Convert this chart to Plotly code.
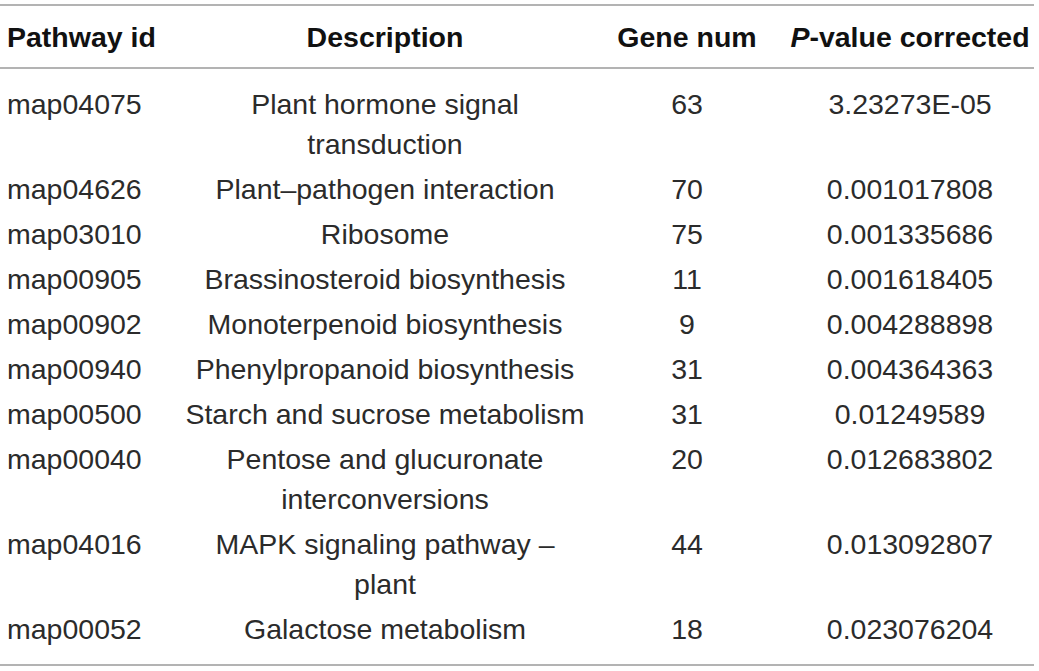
import plotly.graph_objects as go

# table contents
headers = ["Pathway id", "Description", "Gene num", "<i>P</i>-value corrected"]
pathway_ids = ["map04075", "map04626", "map03010", "map00905", "map00902",
               "map00940", "map00500", "map00040", "map04016", "map00052"]
descriptions = ["Plant hormone signal\ntransduction",
                "Plant\u2013pathogen interaction",
                "Ribosome",
                "Brassinosteroid biosynthesis",
                "Monoterpenoid biosynthesis",
                "Phenylpropanoid biosynthesis",
                "Starch and sucrose metabolism",
                "Pentose and glucuronate\ninterconversions",
                "MAPK signaling pathway \u2013\nplant",
                "Galactose metabolism"]
gene_num = [63, 70, 75, 11, 9, 31, 31, 20, 44, 18]
p_corrected = ["3.23273E-05", "0.001017808", "0.001335686", "0.001618405",
               "0.004288898", "0.004364363", "0.01249589", "0.012683802",
               "0.013092807", "0.023076204"]

W, H = 1039, 671
FONT = "Liberation Sans, Arial, Helvetica, sans-serif"
FS = 28.5
TXT = "#2b2b2b"
RULE = "#9a9a9a"

col_x = [7, 385, 687, 910]
header_y = 40
first_y = 107
row_pitch = 45
line_gap = 40

# work out the vertical position of every text line
row_y = []
line_y, line_txt = [], []
y = first_y
for d in descriptions:
    parts = d.split("\n")
    row_y.append(y)
    for k, p in enumerate(parts):
        line_y.append(y + k * line_gap)
        line_txt.append(p)
    y += row_pitch + (len(parts) - 1) * line_gap

fig = go.Figure()

# header
fig.add_trace(go.Scatter(
    x=[col_x[0]], y=[header_y], text=["<b>" + headers[0] + "</b>"],
    mode="text", textposition="middle right",
    textfont=dict(family=FONT, size=FS, color="#111"), hoverinfo="skip"))
fig.add_trace(go.Scatter(
    x=col_x[1:], y=[header_y] * 3, text=["<b>" + h + "</b>" for h in headers[1:]],
    mode="text", textposition="middle center",
    textfont=dict(family=FONT, size=FS, color="#111"), hoverinfo="skip"))

# body
fig.add_trace(go.Scatter(
    x=[col_x[0]] * len(pathway_ids), y=row_y, text=pathway_ids,
    mode="text", textposition="middle right",
    textfont=dict(family=FONT, size=FS, color=TXT), hoverinfo="skip"))
fig.add_trace(go.Scatter(
    x=[col_x[1]] * len(line_txt), y=line_y, text=line_txt,
    mode="text", textposition="middle center",
    textfont=dict(family=FONT, size=FS, color=TXT), hoverinfo="skip"))
fig.add_trace(go.Scatter(
    x=[col_x[2]] * len(gene_num), y=row_y, text=[str(g) for g in gene_num],
    mode="text", textposition="middle center",
    textfont=dict(family=FONT, size=FS, color=TXT), hoverinfo="skip"))
fig.add_trace(go.Scatter(
    x=[col_x[3]] * len(p_corrected), y=row_y, text=p_corrected,
    mode="text", textposition="middle center",
    textfont=dict(family=FONT, size=FS, color=TXT), hoverinfo="skip"))

# horizontal rules
for ry in [5, 68, 665]:
    fig.add_shape(type="line", x0=0, x1=1034, y0=ry, y1=ry,
                  xref="x", yref="y", line=dict(color=RULE, width=1.5))

fig.update_layout(
    width=W, height=H,
    margin=dict(l=0, r=0, t=0, b=0),
    paper_bgcolor="white", plot_bgcolor="white",
    showlegend=False,
    xaxis=dict(range=[0, W], visible=False, fixedrange=True),
    yaxis=dict(range=[H, 0], visible=False, fixedrange=True),
)

# drop the default page margin so the figure sits at the window corner
fig.write_html("out.html", config={"displayModeBar": False},
               post_script="document.body.style.margin='0';")
